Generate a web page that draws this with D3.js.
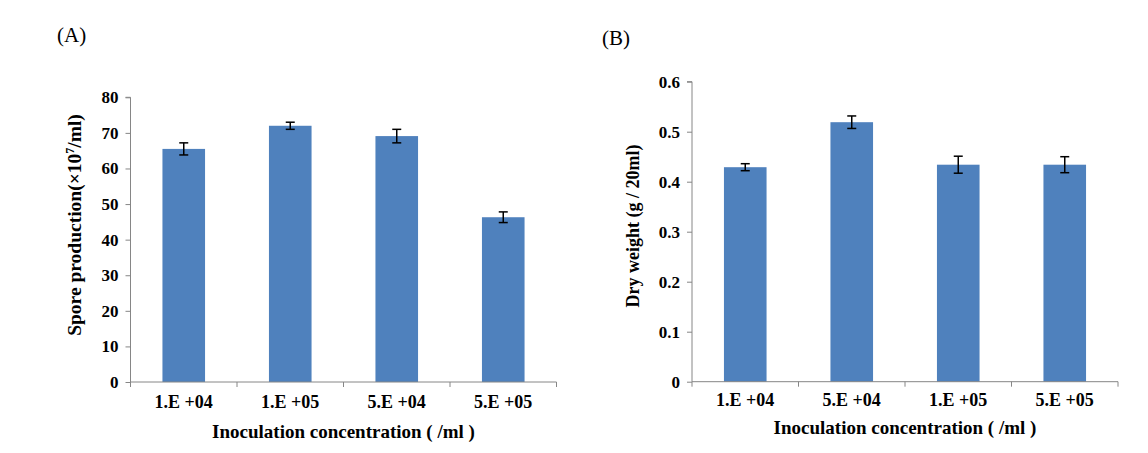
<!DOCTYPE html>
<html>
<head>
<meta charset="utf-8">
<script src="https://cdn.jsdelivr.net/npm/d3@7"></script>
<style>
  body { margin: 0; background: #fff; }
  svg { display: block; }
  text { font-family: "Liberation Serif", "Times New Roman", serif; }
</style>
</head>
<body>
<svg id="chart" width="1148" height="453"></svg>
<script>
// Panel A data
const catsA = ["1.E +04", "1.E +05", "5.E +04", "5.E +05"];
const valsA = [65.5, 72.0, 69.1, 46.3];
const errA = [1.7, 1.0, 1.9, 1.5];
const ticksA = [0, 10, 20, 30, 40, 50, 60, 70, 80];

// Panel B data
const catsB = ["1.E +04", "5.E +04", "1.E +05", "5.E +05"];
const valsB = [0.429, 0.519, 0.434, 0.434];
const errB = [0.007, 0.0125, 0.017, 0.016];
const ticksB = [0, 0.1, 0.2, 0.3, 0.4, 0.5, 0.6];

const svg = d3.select("#chart");
const barColor = "#4F81BD";
const axisColor = "#868686";

function panel(opts) {
  const g = svg.append("g");
  const x = d3.scaleBand().domain(opts.cats).range([opts.x0, opts.x1]).paddingInner(0.6).paddingOuter(0.3);
  const y = d3.scaleLinear().domain([0, opts.ymax]).range([opts.y0, opts.y1]);

  // bars
  g.selectAll("rect.bar").data(opts.vals).enter().append("rect")
    .attr("x", (d, i) => x(opts.cats[i]))
    .attr("width", x.bandwidth())
    .attr("y", d => y(d))
    .attr("height", d => y(0) - y(d))
    .attr("fill", barColor);

  // error bars
  const eb = g.selectAll("g.err").data(opts.vals).enter().append("g");
  eb.append("line")
    .attr("x1", (d, i) => x(opts.cats[i]) + x.bandwidth() / 2)
    .attr("x2", (d, i) => x(opts.cats[i]) + x.bandwidth() / 2)
    .attr("y1", (d, i) => y(d + opts.err[i]))
    .attr("y2", (d, i) => y(d - opts.err[i]))
    .attr("stroke", "#000").attr("stroke-width", 1.5);
  [1, -1].forEach(s => {
    eb.append("line")
      .attr("x1", (d, i) => x(opts.cats[i]) + x.bandwidth() / 2 - 4.5)
      .attr("x2", (d, i) => x(opts.cats[i]) + x.bandwidth() / 2 + 4.5)
      .attr("y1", (d, i) => y(d + s * opts.err[i]))
      .attr("y2", (d, i) => y(d + s * opts.err[i]))
      .attr("stroke", "#000").attr("stroke-width", 1.5);
  });

  // y axis
  const yAxis = d3.axisLeft(y).tickValues(opts.ticks).tickSize(5).tickPadding(7)
    .tickFormat(opts.fmt);
  const ya = g.append("g").attr("transform", `translate(${opts.x0},0)`).call(yAxis);
  ya.select(".domain").attr("stroke", axisColor).attr("d", `M-5,${opts.y1}H0V${opts.y0}`);
  ya.selectAll(".tick line").attr("stroke", axisColor);
  ya.selectAll(".tick text").attr("fill", "#000")
    .style("font-family", "'Liberation Serif', serif").style("font-weight", "bold").style("font-size", "17px");

  // x axis
  const xa = g.append("g").attr("transform", `translate(0,${opts.y0})`);
  xa.append("line").attr("x1", opts.x0).attr("x2", opts.x1).attr("y1", 0).attr("y2", 0)
    .attr("stroke", axisColor);
  const bounds = d3.range(opts.cats.length + 1).map(i => opts.x0 + i * (opts.x1 - opts.x0) / opts.cats.length);
  xa.selectAll("line.tk").data(bounds).enter().append("line")
    .attr("x1", d => d).attr("x2", d => d).attr("y1", 0).attr("y2", 5).attr("stroke", axisColor);
  xa.selectAll("text.cat").data(opts.cats).enter().append("text")
    .attr("x", d => x(d) + x.bandwidth() / 2)
    .attr("y", opts.tickBase)
    .attr("text-anchor", "middle")
    .style("font-weight", "bold").style("font-size", "18px")
    .text(d => d);

  // x title
  g.append("text")
    .attr("x", (opts.x0 + opts.x1) / 2 + opts.xtDx)
    .attr("y", opts.y0 + opts.xtBase)
    .attr("text-anchor", "middle")
    .style("font-weight", "bold").style("font-size", "19px")
    .text("Inoculation concentration ( /ml )");

  // y title
  const yt = g.append("text")
    .attr("transform", `translate(${opts.ytX},${opts.ytY}) rotate(-90)`)
    .attr("text-anchor", "middle")
    .style("font-weight", "bold").style("font-size", opts.ytSize);
  opts.ytitle(yt);

  // panel label
  g.append("text").attr("x", opts.lx).attr("y", opts.ly)
    .style("font-size", "21px").text(opts.label);
}

panel({
  cats: catsA, vals: valsA, err: errA, ticks: ticksA, ymax: 80,
  x0: 130.5, x1: 556.5, y0: 382, y1: 97.3,
  fmt: d3.format("d"),
  tickBase: 26, xtBase: 56, xtDx: 0,
  ytX: 81, ytY: 225, ytSize: "19.5px",
  ytitle: t => {
    t.append("tspan").text("Spore production(×10");
    t.append("tspan").attr("baseline-shift", "super").style("font-size", "12px").text("7");
    t.append("tspan").text("/ml)");
  },
  lx: 57, ly: 42, label: "(A)"
});

panel({
  cats: catsB, vals: valsB, err: errB, ticks: ticksB, ymax: 0.6,
  x0: 692, x1: 1118, y0: 381.7, y1: 81.7,
  fmt: d => d === 0 ? "0" : d3.format(".1f")(d),
  tickBase: 24, xtBase: 52, xtDx: 0,
  ytX: 639, ytY: 226, ytSize: "18px",
  ytitle: t => { t.text("Dry weight (g / 20ml)"); },
  lx: 602, ly: 45, label: "(B)"
});
</script>
</body>
</html>
